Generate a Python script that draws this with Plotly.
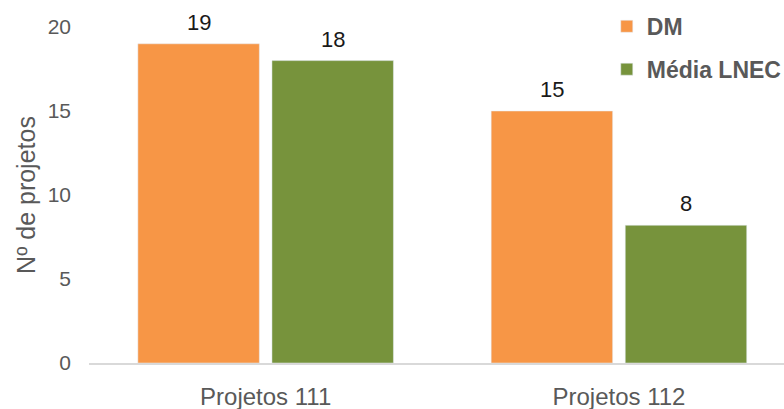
import plotly.graph_objects as go

categories = ["Projetos 111", "Projetos 112"]
dm_values = [19, 15]
lnec_values = [18, 8.2]
series_names = ["DM", "Média LNEC"]
colors = ["#F79646", "#77933C"]
y_ticks = [0, 5, 10, 15, 20]

FONT = "Liberation Sans, Arial, sans-serif"

fig = go.Figure()
series = [dm_values, lnec_values]
for name, vals, col in zip(series_names, series, colors):
    fig.add_trace(go.Bar(
        x=categories, y=vals, name=name, marker_color=col,
        legendgroup=name,
    ))

# data labels above each bar (grouped offsets: left / right slot)
offsets = [-67, 67]
for vals, dx in zip(series, offsets):
    for cat, v in zip(categories, vals):
        fig.add_annotation(
            x=cat, y=v, text=f"{v:.0f}", showarrow=False,
            xshift=dx, yshift=7, yanchor="bottom",
            font=dict(size=22, color="#1a1a1a", family=FONT),
        )

fig.update_layout(
    width=784, height=409,
    margin=dict(l=89, r=0, t=27, b=46, autoexpand=False),
    plot_bgcolor="white", paper_bgcolor="white",
    barmode="group", bargap=0.241, bargroupgap=0.094,
    font=dict(family=FONT, color="#595959"),
    showlegend=True,
    legend=dict(
        xref="paper", yref="paper",
        x=0.745, y=1.066, xanchor="left", yanchor="top",
        font=dict(size=23, color="#595959", family=FONT, weight="bold"),
        bgcolor="rgba(0,0,0,0)", tracegroupgap=10,
        traceorder="grouped",
        itemwidth=30,
    ),
)
fig.update_xaxes(
    range=[-0.5, -0.5 + 695.0 / 353.3],
    showline=True, linecolor="#D9D9D9", linewidth=1.5,
    showgrid=False, ticks="",
    tickfont=dict(size=24, color="#595959"),
    ticklabelstandoff=11,
)
fig.update_yaxes(
    range=[0, 20], tickvals=y_ticks,
    showgrid=False, showline=False, zeroline=False, ticks="",
    tickfont=dict(size=21, color="#595959"),
    ticklabelstandoff=17,
    title=dict(text="Nº de projetos", font=dict(size=25, color="#595959"), standoff=4),
)

fig.write_html("out.html")
